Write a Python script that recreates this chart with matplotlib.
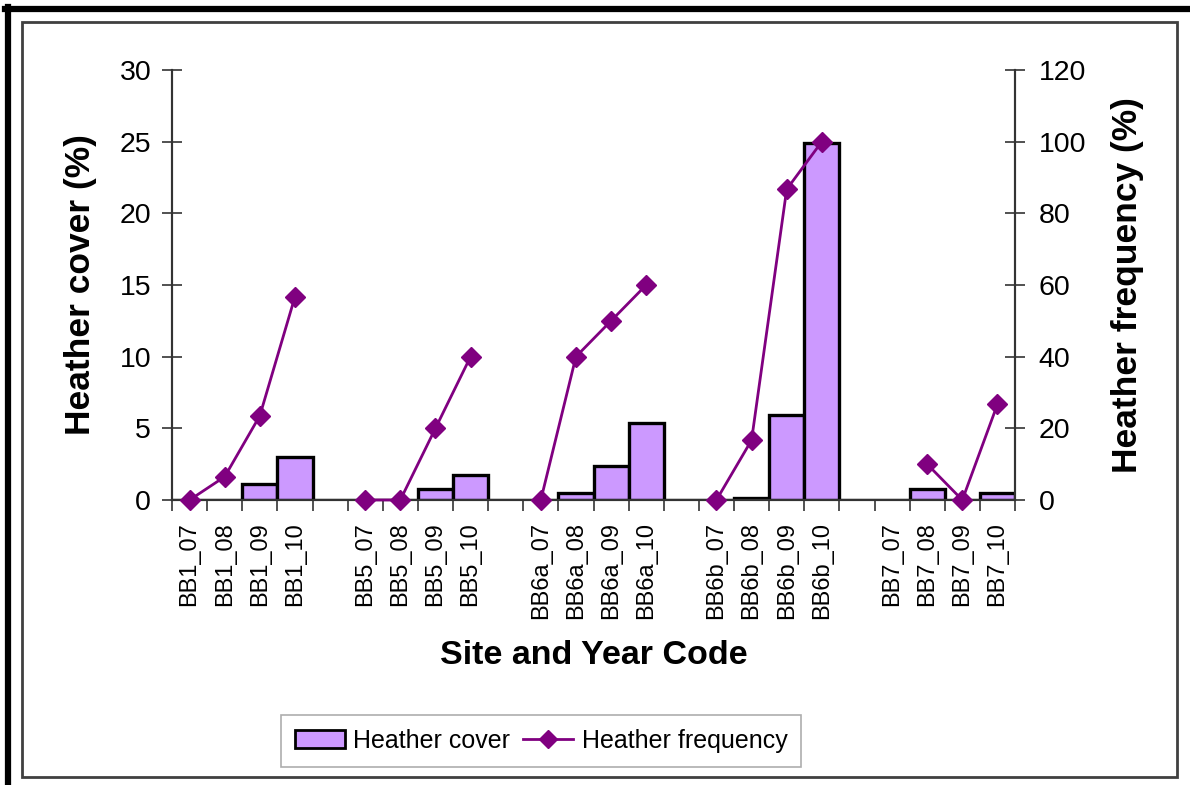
import numpy as np
import matplotlib
matplotlib.use('Agg')
import matplotlib.pyplot as plt
from matplotlib.lines import Line2D
from matplotlib.patches import Rectangle

plt.rcParams['font.family'] = ['Liberation Sans', 'DejaVu Sans']

# site/year codes, '' marks the empty slot between sites
labels = ['BB1_07', 'BB1_08', 'BB1_09', 'BB1_10', '',
          'BB5_07', 'BB5_08', 'BB5_09', 'BB5_10', '',
          'BB6a_07', 'BB6a_08', 'BB6a_09', 'BB6a_10', '',
          'BB6b_07', 'BB6b_08', 'BB6b_09', 'BB6b_10', '',
          'BB7_07', 'BB7_08', 'BB7_09', 'BB7_10']
nan = np.nan
# heather cover (%), left axis
cover = [0, 0, 1.1, 3.0, nan,
         0, 0, 0.8, 1.75, nan,
         0, 0.5, 2.4, 5.4, nan,
         0, 0.15, 5.9, 24.9, nan,
         0, 0.8, 0, 0.5]
# heather frequency (%), right axis
freq = [0, 6.5, 23.5, 56.7, nan,
        0, 0, 20, 40, nan,
        0, 40, 50, 60, nan,
        0, 16.7, 86.7, 100, nan,
        nan, 10, 0, 26.7]

bar_col = '#CC99FF'
line_col = '#800080'

fig = plt.figure(figsize=(11.9, 7.85), dpi=100)
ax = fig.add_axes([172/1190, 1-500/785, (1015-172)/1190, 430/785])
x = np.arange(len(labels))

ax.bar(x, np.nan_to_num(cover), width=1.0, color=bar_col, edgecolor='black', linewidth=2.4)
ax.set_xlim(-0.5, len(labels) - 0.5)
ax.set_ylim(0, 30)
ax.set_yticks(np.arange(0, 31, 5))

ax2 = ax.twinx()
ax2.plot(x, freq, color=line_col, lw=2, marker='D', markersize=10, clip_on=False, zorder=5)
ax2.set_ylim(0, 120)
ax2.set_yticks(np.arange(0, 121, 20))

# ticks at slot boundaries, labels at slot centres
ax.set_xticks(np.arange(-0.5, len(labels)), minor=False)
ax.set_xticklabels([])
ax.set_xticks(x, minor=True)
ax.set_xticklabels(labels, minor=True, rotation=90, fontsize=17)
ax.tick_params(axis='x', which='major', direction='out', length=8, width=1.2, color='#333333')
ax.tick_params(axis='x', which='minor', length=0, pad=16)
ax.tick_params(axis='y', direction='inout', length=14, width=1.2, color='#333333', labelsize=20.5, pad=8)
ax2.tick_params(axis='y', direction='inout', length=14, width=1.2, color='#333333', labelsize=20.5, pad=10)

for a in (ax, ax2):
    a.spines['top'].set_visible(False)
    for s in ('left', 'right', 'bottom'):
        a.spines[s].set_color('#333333')
        a.spines[s].set_linewidth(1.5)

ax.set_xlabel('Site and Year Code', fontsize=24.5, fontweight='bold', labelpad=15)
ax.set_ylabel('Heather cover (%)', fontsize=25.5, fontweight='bold', labelpad=16)
ax2.set_ylabel('Heather frequency (%)', fontsize=25.5, fontweight='bold', labelpad=18)

handles = [Rectangle((0, 0), 1, 1, facecolor=bar_col, edgecolor='black', linewidth=2),
           Line2D([], [], color=line_col, lw=2, marker='D', markersize=9)]
leg = fig.legend(handles, ['Heather cover', 'Heather frequency'], loc='center',
                 bbox_to_anchor=(541/1190, 1-741/785), ncol=2, fontsize=18,
                 frameon=True, fancybox=False, edgecolor='#999999', handlelength=2.0,
                 handleheight=0.75, columnspacing=0.5, handletextpad=0.35,
                 borderpad=0.55, borderaxespad=0)
leg.get_frame().set_linewidth(1.2)

# outer frame
fig.add_artist(Line2D([5/1190, 1], [1-9/785, 1-9/785], color='black', lw=4.5, transform=fig.transFigure))
fig.add_artist(Line2D([8/1190, 8/1190], [0, 1-7/785], color='black', lw=4.5, transform=fig.transFigure))
fig.add_artist(Rectangle((22/1190, 1-777/785), (1177-22)/1190, (777-22)/785, fill=False,
                         edgecolor='#404040', lw=2, transform=fig.transFigure))

fig.savefig('out.png', dpi=100)
